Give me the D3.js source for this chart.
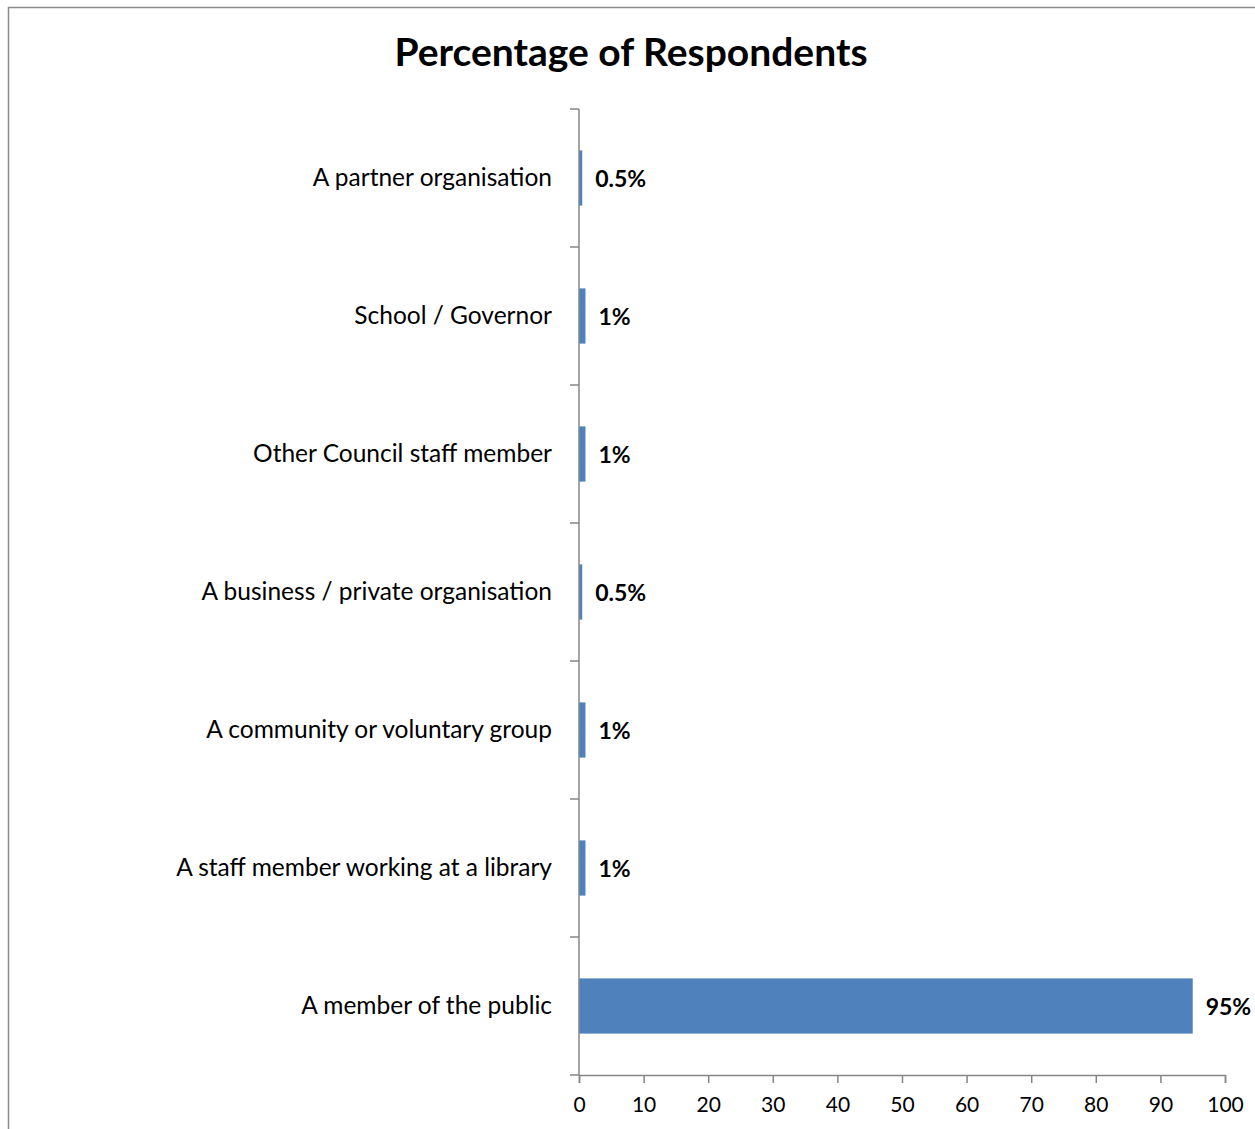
<!DOCTYPE html>
<html lang="en">
    <head>
        <meta charset="utf-8">
        <title>Percentage of Respondents</title>
        <script src="https://d3js.org/d3.v7.min.js"></script>
        <style type="text/css">
            body { margin: 0; background: #fff; }
            text { font-family: Lato, "Open Sans", sans-serif; }
        </style>
    </head>
    <body>
        <script>
            // data
            var categories = [
                "A partner organisation",
                "School / Governor",
                "Other Council staff member",
                "A business / private organisation",
                "A community or voluntary group",
                "A staff member working at a  library",
                "A member of the public"
            ];
            var values = [0.5, 1, 1, 0.5, 1, 1, 95];
            var valueLabels = ["0.5%", "1%", "1%", "0.5%", "1%", "1%", "95%"];
            var xTicks = [0, 10, 20, 30, 40, 50, 60, 70, 80, 90, 100];

            // configuration
            var outerWidth = 1255;
            var outerHeight = 1129;
            var margin = { left: 579, top: 109, right: 30, bottom: 54 };
            var innerWidth = 1225 - margin.left;
            var innerHeight = 1075 - margin.top;

            var svg = d3.select("body")
                .append("svg")
                .attr("width", outerWidth)
                .attr("height", outerHeight);

            // chart border (only top and left edges are inside the picture)
            svg.append("path")
                .attr("d", "M8.5," + outerHeight + "V7.5H" + outerWidth)
                .attr("fill", "none")
                .attr("stroke", "#8c8c8c")
                .attr("stroke-width", 1.5);

            svg.append("text")
                .attr("x", 631)
                .attr("y", 66)
                .attr("text-anchor", "middle")
                .style("font-size", "39px")
                .style("font-weight", "bold")
                .text("Percentage of Respondents");

            var g = svg.append("g")
                .attr("transform", "translate(" + margin.left + "," + margin.top + ")");

            var xScale = d3.scaleLinear().domain([0, 100]).range([0, innerWidth]);
            var yScale = d3.scaleBand().domain(categories).range([0, innerHeight])
                .paddingInner(0.6).paddingOuter(0.3);

            g.selectAll("rect.bar").data(values).enter().append("rect")
                .attr("class", "bar")
                .attr("x", xScale(0))
                .attr("y", function (d, i) { return yScale(categories[i]); })
                .attr("width", function (d) { return xScale(d) - xScale(0); })
                .attr("height", yScale.bandwidth())
                .attr("fill", "#4f81bd");

            // value labels
            g.selectAll("text.val").data(values).enter().append("text")
                .attr("class", "val")
                .attr("x", function (d) { return xScale(d) + 13; })
                .attr("y", function (d, i) { return yScale(categories[i]) + yScale.bandwidth() / 2 + 9; })
                .style("font-size", "23px")
                .style("font-weight", "bold")
                .text(function (d, i) { return valueLabels[i]; });

            // y axis
            var step = innerHeight / categories.length;
            g.append("line")
                .attr("x1", 0).attr("x2", 0)
                .attr("y1", 0).attr("y2", innerHeight)
                .attr("stroke", "#868686").attr("stroke-width", 1.5);
            g.selectAll("line.ytick").data(d3.range(categories.length + 1)).enter().append("line")
                .attr("class", "ytick")
                .attr("x1", -9).attr("x2", 0)
                .attr("y1", function (d) { return d * step; })
                .attr("y2", function (d) { return d * step; })
                .attr("stroke", "#868686").attr("stroke-width", 1.5);
            g.selectAll("text.cat").data(categories).enter().append("text")
                .attr("class", "cat")
                .attr("x", -27)
                .attr("y", function (d) { return yScale(d) + yScale.bandwidth() / 2 + 8; })
                .attr("text-anchor", "end")
                .style("font-size", "24.5px")
                .text(function (d) { return d; });

            // x axis
            var xAxis = d3.axisBottom(xScale).tickValues(xTicks).tickSize(8).tickPadding(14);
            var xg = g.append("g")
                .attr("transform", "translate(0," + innerHeight + ")")
                .call(xAxis);
            xg.select(".domain").attr("stroke", "#868686").attr("stroke-width", 1.5);
            xg.selectAll(".tick line").attr("stroke", "#868686").attr("stroke-width", 1.5);
            xg.selectAll(".tick text")
                .attr("fill", "#000")
                .style("font-size", "21px")
                .style("font-family", "Lato, sans-serif");
        </script>
    </body>
</html>
